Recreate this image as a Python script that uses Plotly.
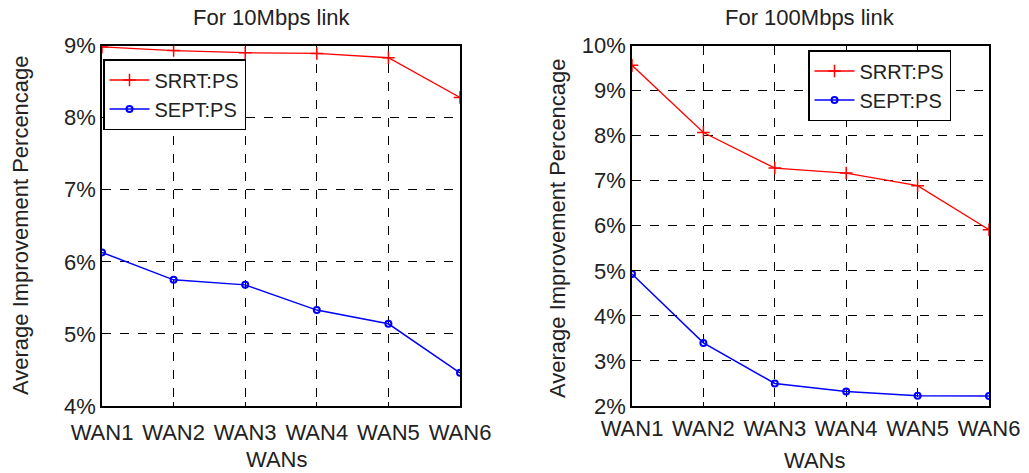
import plotly.graph_objects as go

wans = ["WAN1", "WAN2", "WAN3", "WAN4", "WAN5", "WAN6"]

# For 10Mbps link (percent)
srrt_10 = [8.98, 8.93, 8.90, 8.89, 8.83, 8.28]
sept_10 = [6.13, 5.75, 5.68, 5.33, 5.14, 4.46]

# For 100Mbps link (percent)
srrt_100 = [9.56, 8.07, 7.28, 7.17, 6.89, 5.91]
sept_100 = [4.93, 3.40, 2.50, 2.32, 2.23, 2.22]

yticks_10 = [4, 5, 6, 7, 8, 9]
yticks_100 = [2, 3, 4, 5, 6, 7, 8, 9, 10]

FONT = "Liberation Sans, Arial, sans-serif"
W, H = 1029, 473

fig = go.Figure()

def add_pair(xa, ya, srrt, sept, legend):
    fig.add_trace(go.Scatter(
        x=wans, y=srrt, name="SRRT:PS", mode="lines+markers",
        xaxis=xa, yaxis=ya, legend=legend,
        line=dict(color="#ff0000", width=1.3),
        marker=dict(symbol="cross-thin", size=9, line=dict(color="#ff0000", width=1.5)),
    ))
    fig.add_trace(go.Scatter(
        x=wans, y=sept, name="SEPT:PS", mode="lines+markers",
        xaxis=xa, yaxis=ya, legend=legend,
        line=dict(color="#0000ff", width=1.5),
        marker=dict(symbol="circle-open", size=6, color="#0000ff", line=dict(color="#0000ff", width=2)),
    ))

add_pair("x", "y", srrt_10, sept_10, "legend")
add_pair("x2", "y2", srrt_100, sept_100, "legend2")

def px_x(p):
    return p / W

def px_y(p):
    return 1 - p / H

axis_common = dict(
    showline=True, mirror=True, linecolor="black", linewidth=1.5,
    showgrid=True, gridcolor="black", griddash="dash", gridwidth=1,
    ticks="inside", ticklen=4, tickcolor="black",
    tickfont=dict(family=FONT, size=22, color="#222222"),
    zeroline=False, automargin=False,
)

legend_common = dict(
    xanchor="left", yanchor="top",
    bgcolor="white", bordercolor="black", borderwidth=1.5,
    font=dict(family=FONT, size=20, color="#222222"),
    itemwidth=40, tracegroupgap=0,
)

fig.update_layout(
    width=W, height=H,
    margin=dict(l=0, r=0, t=0, b=0, autoexpand=False),
    paper_bgcolor="white", plot_bgcolor="white",
    font=dict(family=FONT, color="#222222"),
    xaxis=dict(domain=[px_x(102), px_x(460)], anchor="y", type="category",
               range=[0, 5], ticklabelstandoff=6, **axis_common),
    yaxis=dict(domain=[px_y(406), px_y(45.5)], anchor="x", range=[4, 9],
               tickvals=yticks_10, ticktext=[f"{v}%" for v in yticks_10], **axis_common),
    xaxis2=dict(domain=[px_x(632), px_x(989)], anchor="y2", type="category",
                range=[0, 5], ticklabelstandoff=2, **axis_common),
    yaxis2=dict(domain=[px_y(406), px_y(45.5)], anchor="x2", range=[2, 10],
                tickvals=yticks_100, ticktext=[f"{v}%" for v in yticks_100], **axis_common),
    legend=dict(x=px_x(103), y=px_y(59), **legend_common),
    legend2=dict(x=px_x(808), y=px_y(50), **legend_common),
    showlegend=True,
)

ann_font = dict(family=FONT, size=22, color="#222222")
annotations = [
    dict(text="For 10Mbps link", x=px_x(272), y=px_y(18)),
    dict(text="For 100Mbps link", x=px_x(810), y=px_y(18)),
    dict(text="WANs", x=px_x(277), y=px_y(459)),
    dict(text="WANs", x=px_x(815), y=px_y(460)),
    dict(text="Average Improvement Percencage", x=px_x(20), y=px_y(225), textangle=-90),
    dict(text="Average Improvement Percencage", x=px_x(557), y=px_y(228), textangle=-90),
]
for a in annotations:
    fig.add_annotation(xref="paper", yref="paper", showarrow=False,
                       xanchor="center", yanchor="middle", font=ann_font, **a)

fig.write_html("out.html", config={"displayModeBar": False},
               post_script="document.body.style.margin='0';document.body.style.overflow='hidden';")
